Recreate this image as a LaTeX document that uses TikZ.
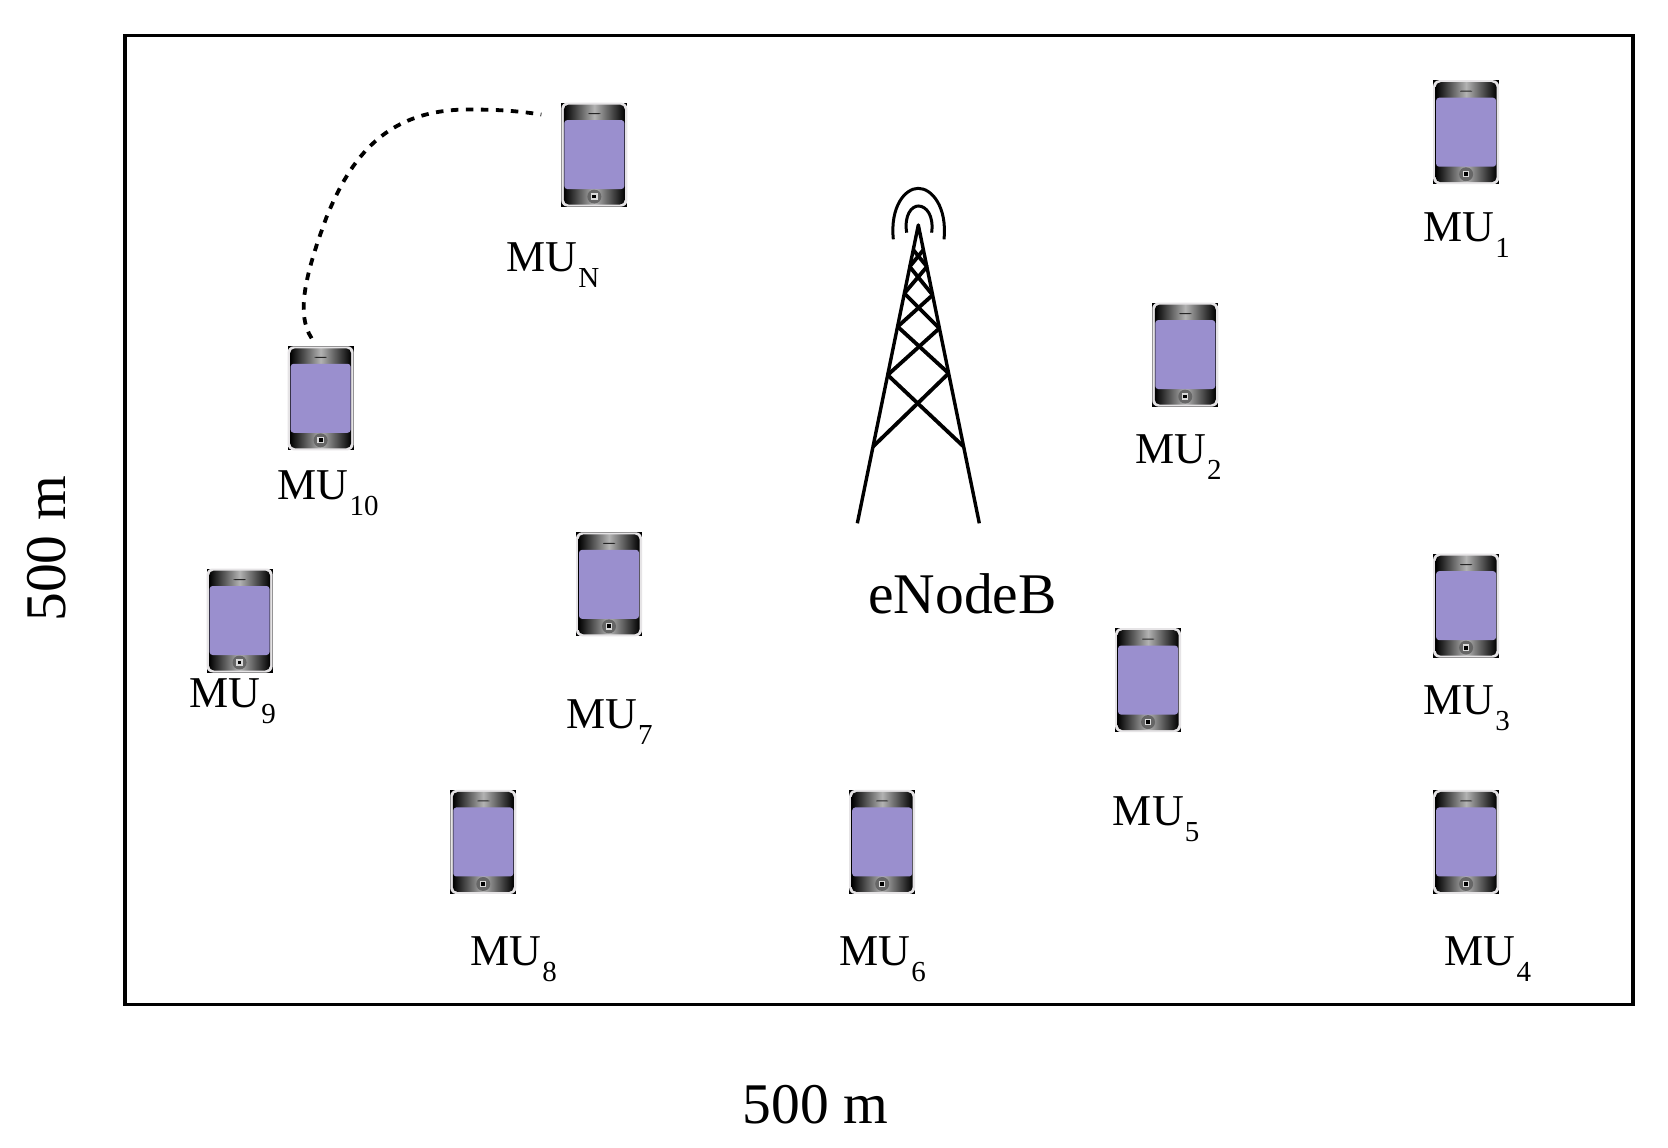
\documentclass[tikz,border=0pt]{standalone}
\usepackage{fontspec}
\setmainfont{Liberation Serif}
\newcommand{\mulab}[1]{MU\kern1pt\raisebox{-0.36em}{\fontsize{29}{29}\selectfont #1}}
\definecolor{screenc}{HTML}{9A8FCE}
\definecolor{rimc}{HTML}{E6E4E6}
\tikzset{
  phonebox/.style={minimum width=66pt,minimum height=104pt,inner sep=0pt,outer sep=0pt},
  mulabel/.style={anchor=base west,inner sep=0pt,font=\fontsize{44}{44}\selectfont},
  biglabel/.style={inner sep=0pt,font=\fontsize{57.5}{57.5}\selectfont},
  frameline/.style={draw=black,line width=3.4pt},
  towerleg/.style={draw=black,line width=3.4pt,line join=round},
  towerbar/.style={draw=black,line width=3.8pt},
  towerarc/.style={draw=black,line width=3pt},
  linkline/.style={draw=black,line width=3.8pt,dash pattern=on 7.5pt off 7.5pt}
}
\begin{document}
\begin{tikzpicture}[x=1.06378pt,y=-1.06378pt]
\useasboundingbox (0,0) rectangle (1568,1079);
\fill[white] (0,0) rectangle (1568,1079);
\draw[frameline] (117.5,33.5) rectangle (1535,944);

% phones
\foreach \n/\px/\py in {muN/558.7/145.3,mua/1378.2/124.3,mub/1114.2/333.3,muj/301.4/374.4,mui/225.2/583.3,mug/572.5/549.3,muc/1378.2/569.3,mue/1079.2/639.3,muh/454.3/791.5,muf/829.3/791.5,mud/1378.2/791.5}{
  \node[phonebox] (\n) at (\px,\py) {};
  \begin{scope}[shift={(\n.center)}]
    \fill[black] (-33pt,-52pt) rectangle (33pt,52pt);
    \fill[rimc,rounded corners=6pt] (-33pt,-52pt) rectangle (33pt,52pt);
    \shade[rounded corners=5pt,left color=black,right color=black,middle color=gray!60] (-30.5pt,-50pt) rectangle (30.5pt,50pt);
    \fill[black!85,rounded corners=1pt] (-6pt,41.5pt) rectangle (6pt,40.5pt);
    \fill[screenc,rounded corners=3pt] (-30pt,34.5pt) rectangle (30pt,-34.5pt);
    \fill[black!60] (0pt,-42pt) circle (7pt);
    \fill[white!85!black] (-3.2pt,-38.8pt) rectangle (3.2pt,-45.2pt);
    \fill[black] (-1.9pt,-40.1pt) rectangle (1.9pt,-43.9pt);
  \end{scope}
}

% link between MU10 and MUN
\draw[linkline] ([shift={(-9pt,8pt)}]muj.north)
  .. controls (278,295) and (287,258) .. (307,204)
  .. controls (329,150) and (362,101) .. (445,103)
  .. controls (466,103) and (485,104) .. ([shift={(-20pt,40pt)}]muN.west);

% tower
\begin{scope}[shift={(840pt,-170pt)},x=0.3333pt,y=-0.3333pt]
  \coordinate (apex) at (235,165);
  \draw[towerleg] (52,1060) -- (apex) -- (418,1060);
  \draw[towerbar] (99,830) -- (326,610);
  \draw[towerbar] (371,830) -- (143,615);
  \draw[towerbar] (143,615) -- (298,475);
  \draw[towerbar] (326,610) -- (173,470);
  \draw[towerbar] (173,470) -- (278,375);
  \draw[towerbar] (298,475) -- (193,370);
  \draw[towerbar] (193,370) -- (261,290);
  \draw[towerbar] (278,375) -- (209,290);
  \draw[towerbar] (209,290) -- (250,240);
  \draw[towerbar] (261,290) -- (220,240);
  \draw[towerarc] (160,208) .. controls (150,110) and (195,55) .. (235,55) .. controls (275,55) and (322,110) .. (312,208);
  \draw[towerarc] (200,188) .. controls (192,135) and (215,108) .. (235,108) .. controls (258,108) and (282,135) .. (275,188);
\end{scope}

% labels
\node[mulabel] (lN) at (476,255) {\mulab{N}};
\node[mulabel] (l1) at (1338,227) {\mulab{1}};
\node[mulabel] (l2) at (1067,436) {\mulab{2}};
\node[mulabel] (l10) at (261,470) {\mulab{10}};
\node[mulabel] (l9) at (178,665) {\mulab{9}};
\node[mulabel] (l7) at (532,685) {\mulab{7}};
\node[mulabel] (l3) at (1338,672) {\mulab{3}};
\node[mulabel] (l5) at (1046,776) {\mulab{5}};
\node[mulabel] (l8) at (442,908) {\mulab{8}};
\node[mulabel] (l6) at (789,908) {\mulab{6}};
\node[mulabel] (l4) at (1358,908) {\mulab{4}};
\node[biglabel,anchor=base west] (enb) at (816,577) {eNodeB};
\node[biglabel,anchor=base west] (wd) at (698,1056) {500 m};
\node[biglabel,anchor=base,rotate=90] (ht) at (62,516) {500 m};
\end{tikzpicture}
\end{document}
